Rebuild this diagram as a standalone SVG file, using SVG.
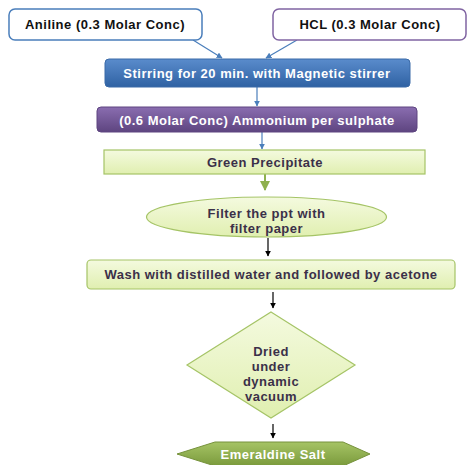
<svg xmlns="http://www.w3.org/2000/svg" width="470" height="465" viewBox="0 0 470 465">
<defs>
<linearGradient id="gBlue" x1="0" y1="0" x2="0" y2="1"><stop offset="0" stop-color="#5a8ccc"/><stop offset="1" stop-color="#2f62a3"/></linearGradient>
<linearGradient id="gPurple" x1="0" y1="0" x2="0" y2="1"><stop offset="0" stop-color="#8a6db0"/><stop offset="1" stop-color="#5e4580"/></linearGradient>
<linearGradient id="gLight" x1="0" y1="0" x2="0" y2="1"><stop offset="0" stop-color="#f4fadf"/><stop offset="1" stop-color="#e0efb0"/></linearGradient>
<linearGradient id="gOlive" x1="0" y1="0" x2="0" y2="1"><stop offset="0" stop-color="#a6c465"/><stop offset="1" stop-color="#7a9a3c"/></linearGradient>
<marker id="aBlue" viewBox="0 0 10 10" refX="9" refY="5" markerWidth="5" markerHeight="5" orient="auto"><path d="M0,0 L10,5 L0,10 z" fill="#4a7ebb"/></marker>
<marker id="aGreen" viewBox="0 0 10 10" refX="9" refY="5" markerWidth="5" markerHeight="5" orient="auto"><path d="M0,0 L10,5 L0,10 z" fill="#8fb04e"/></marker>
<marker id="aBlack" viewBox="0 0 10 10" refX="9" refY="5" markerWidth="5" markerHeight="5" orient="auto"><path d="M0,0 L10,5 L0,10 z" fill="#000"/></marker>
</defs>
<style>
text{font-family:"Liberation Sans",Arial,sans-serif;font-weight:700;font-size:13px;letter-spacing:0.5px;text-anchor:middle;dominant-baseline:central}
.dark{fill:#3b3049}
.blk{fill:#111}
.wht{fill:#fff}
.lt{fill:url(#gLight);stroke:#a5c466;stroke-width:1.2}
</style>
<rect width="470" height="465" fill="#fff"/>
<g id="connectors" fill="none" stroke-width="1.2">
<line x1="193" y1="40" x2="222" y2="58" stroke="#4a7ebb" marker-end="url(#aBlue)"/>
<line x1="297" y1="40" x2="266" y2="58" stroke="#4a7ebb" marker-end="url(#aBlue)"/>
<line x1="257" y1="87" x2="257" y2="106" stroke="#4a7ebb" marker-end="url(#aBlue)"/>
<line x1="262" y1="132" x2="262" y2="149" stroke="#4a7ebb" marker-end="url(#aBlue)"/>
<line x1="265" y1="174" x2="265" y2="190" stroke="#8fb04e" stroke-width="2" marker-end="url(#aGreen)"/>
<line x1="268" y1="238" x2="268" y2="256" stroke="#000" marker-end="url(#aBlack)"/>
<line x1="273" y1="292" x2="273" y2="308" stroke="#000" marker-end="url(#aBlack)"/>
<line x1="273" y1="424" x2="273" y2="438" stroke="#000" marker-end="url(#aBlack)"/>
</g>
<g id="aniline">
<rect x="9" y="9" width="193" height="31" rx="6" fill="#fff" stroke="#4a7ebb" stroke-width="1.5"/>
<text x="105" y="24" class="blk">Aniline (0.3 Molar Conc)</text>
</g>
<g id="hcl">
<rect x="273" y="9" width="193" height="31" rx="6" fill="#fff" stroke="#8064a2" stroke-width="1.5"/>
<text x="370" y="24" class="blk">HCL (0.3 Molar Conc)</text>
</g>
<g id="stirring">
<rect x="105" y="59" width="305" height="28" rx="4" fill="url(#gBlue)" stroke="#3a6aa8" stroke-width="1"/>
<text x="257" y="73" class="wht">Stirring for 20 min. with Magnetic stirrer</text>
</g>
<g id="aps">
<rect x="97" y="107" width="320" height="25" rx="4" fill="url(#gPurple)" stroke="#5e4580" stroke-width="1"/>
<text x="257" y="120" class="wht">(0.6 Molar Conc) Ammonium per sulphate</text>
</g>
<g id="precipitate">
<rect x="104" y="150" width="321" height="24" class="lt"/>
<text x="265" y="162" class="dark">Green Precipitate</text>
</g>
<g id="filter">
<ellipse cx="266.5" cy="217" rx="120" ry="20" class="lt"/>
<text x="266.5" y="213" class="dark">Filter the ppt with</text>
<text x="266.5" y="228" class="dark">filter paper</text>
</g>
<g id="wash">
<rect x="87" y="260" width="368" height="29" rx="4" class="lt"/>
<text x="271" y="274" class="dark">Wash with distilled water and followed by acetone</text>
</g>
<g id="dried">
<polygon points="271,312 355,365 271,418 187,365" class="lt"/>
<text x="271" y="351" class="dark">Dried</text>
<text x="271" y="366" class="dark">under</text>
<text x="271" y="381" class="dark">dynamic</text>
<text x="271" y="396" class="dark">vacuum</text>
</g>
<g id="emeraldine">
<polygon points="177,454 215,442 343,442 370,454 343,466 215,466" fill="url(#gOlive)" stroke="#76923c" stroke-width="1"/>
<text x="273" y="454" class="wht">Emeraldine Salt</text>
</g>
</svg>
